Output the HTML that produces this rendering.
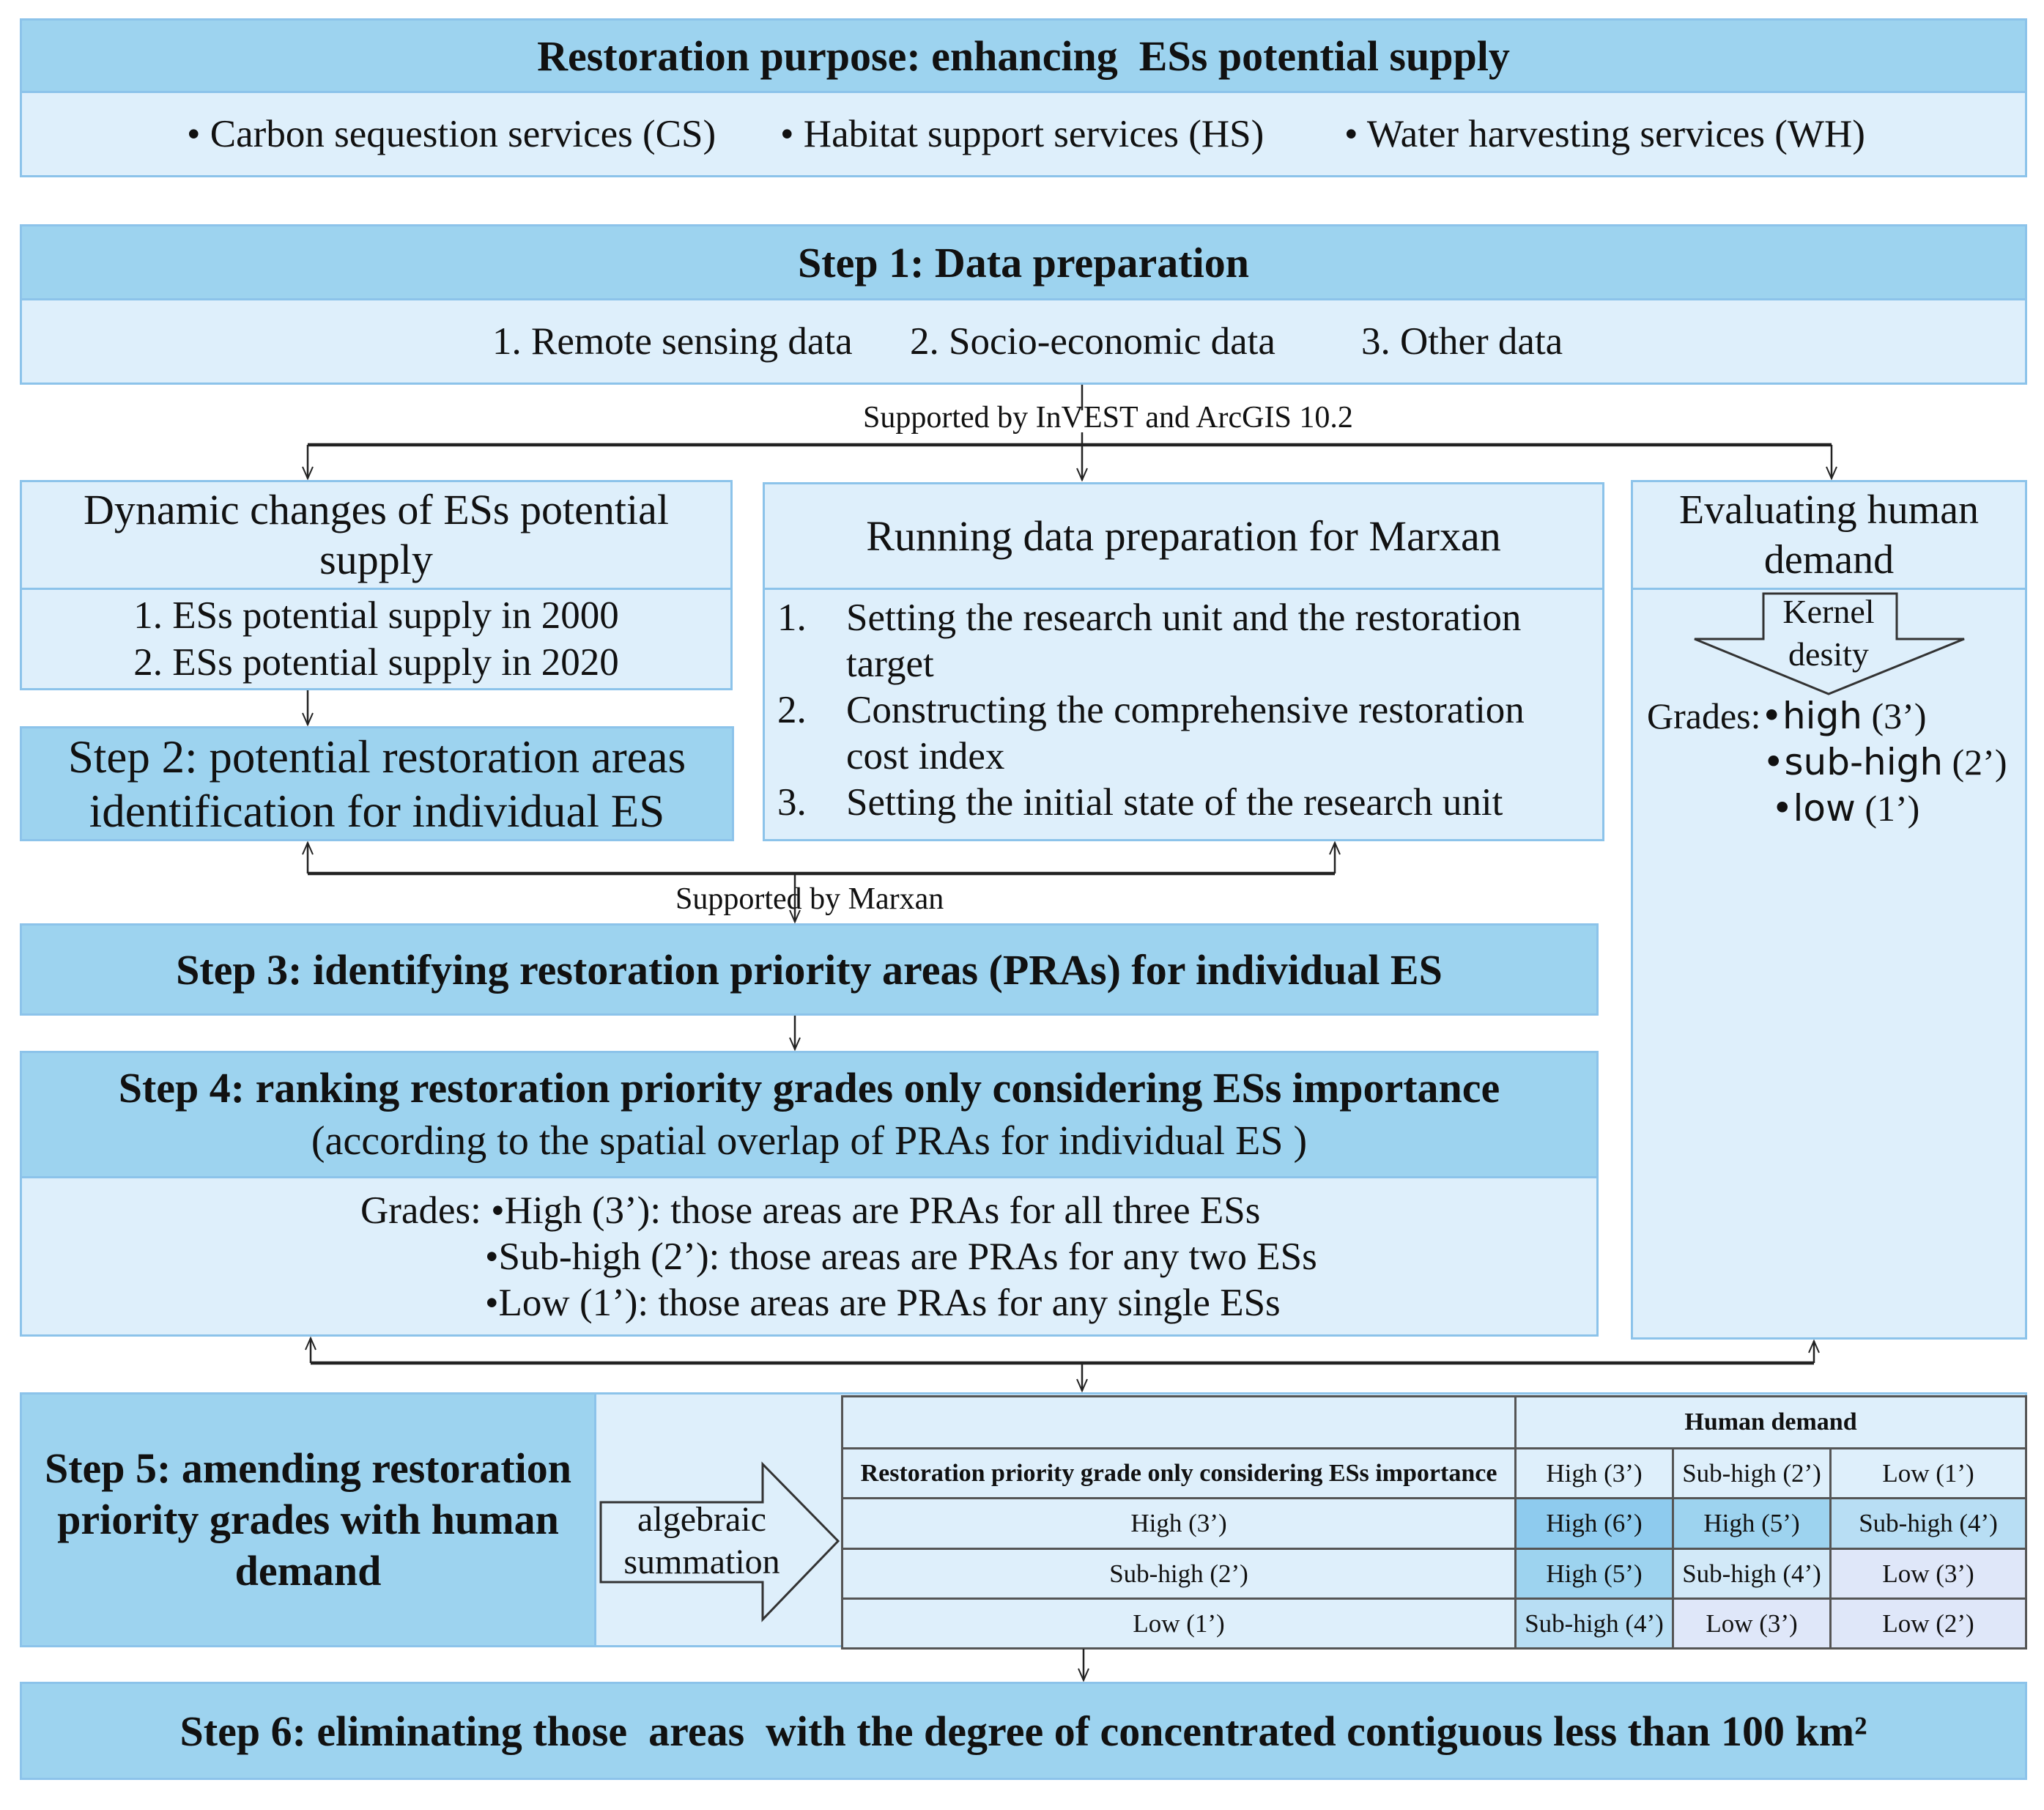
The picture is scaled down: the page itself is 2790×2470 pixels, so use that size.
<!DOCTYPE html>
<html><head><meta charset="utf-8"><style>
body{margin:0;width:2790px;height:2470px;background:#fff;position:relative;overflow:hidden;font-family:"Liberation Serif",serif;color:#111}
.b{position:absolute;box-sizing:border-box;border:3px solid #8cc3ea;display:flex;flex-direction:column;align-items:center;justify-content:center;text-align:center}
.h{background:#9dd3ef}.l{background:#deeffb}
.bold{font-weight:bold}
.t{position:absolute;white-space:nowrap}
table{position:absolute;left:1148px;top:1904px;width:1619px;height:344px;border-collapse:collapse;font-size:35px}
td{border:3px solid #555;text-align:center;padding:0}
</style></head><body>
<!-- top -->
<div class="b h bold" style="left:27px;top:25px;width:2740px;height:102px;font-size:58px">Restoration purpose: enhancing&nbsp; ESs potential supply</div>
<div class="b l" style="left:27px;top:124px;width:2740px;height:118px;font-size:53px;flex-direction:row;justify-content:flex-start">
<span style="position:absolute;left:225px">• Carbon sequestion services (CS)</span>
<span style="position:absolute;left:1035px">• Habitat support services (HS)</span>
<span style="position:absolute;left:1805px">• Water harvesting services (WH)</span></div>
<!-- step1 -->
<div class="b h bold" style="left:27px;top:306px;width:2740px;height:104px;font-size:58px">Step 1: Data preparation</div>
<div class="b l" style="left:27px;top:407px;width:2740px;height:118px;font-size:53px">
<span style="position:absolute;left:642px">1. Remote sensing data</span>
<span style="position:absolute;left:1212px">2. Socio-economic data</span>
<span style="position:absolute;left:1828px">3. Other data</span></div>
<div class="t" style="left:1178px;top:546px;font-size:42px">Supported by InVEST and ArcGIS 10.2</div>
<!-- left -->
<div class="b l" style="left:27px;top:655px;width:973px;height:150px;font-size:58px;line-height:68px">Dynamic changes of ESs potential<br>supply</div>
<div class="b l" style="left:27px;top:802px;width:973px;height:140px;font-size:53px;line-height:64px">1. ESs potential supply in 2000<br>2. ESs potential supply in 2020</div>
<div class="b h" style="left:27px;top:991px;width:975px;height:157px;font-size:63px;line-height:74px">Step 2: potential restoration areas<br>identification for individual ES</div>
<!-- middle -->
<div class="b l" style="left:1041px;top:658px;width:1149px;height:147px;font-size:58px">Running data preparation for Marxan</div>
<div class="b l" style="left:1041px;top:802px;width:1149px;height:346px;font-size:53px;text-align:left"></div>
<div class="t" style="left:1061px;top:812px;line-height:63px;font-size:53px">1.</div><div class="t" style="left:1155px;top:812px;line-height:63px;font-size:53px">Setting the research unit and the restoration<br>target</div>
<div class="t" style="left:1061px;top:938px;line-height:63px;font-size:53px">2.</div><div class="t" style="left:1155px;top:938px;line-height:63px;font-size:53px">Constructing the comprehensive restoration<br>cost index</div>
<div class="t" style="left:1061px;top:1064px;line-height:63px;font-size:53px">3.</div><div class="t" style="left:1155px;top:1064px;line-height:63px;font-size:53px">Setting the initial state of the research unit</div>
<!-- right -->
<div class="b l" style="left:2226px;top:655px;width:541px;height:150px;font-size:56px;line-height:68px">Evaluating human<br>demand</div>
<div class="b l" style="left:2226px;top:802px;width:541px;height:1026px"></div>
<!-- step3 -->
<div class="t" style="left:922px;top:1203px;font-size:42px">Supported by Marxan</div>
<div class="b h bold" style="left:27px;top:1260px;width:2155px;height:126px;font-size:58px">Step 3: identifying restoration priority areas (PRAs) for individual ES</div>
<!-- step4 -->
<div class="b h" style="left:27px;top:1434px;width:2155px;height:174px;font-size:56px;line-height:72px"><b style="font-size:58px">Step 4: ranking restoration priority grades only considering ESs importance</b>(according to the spatial overlap of PRAs for individual ES )</div>
<div class="b l" style="left:27px;top:1605px;width:2155px;height:219px"></div>
<div class="t" style="left:492px;top:1621px;font-size:53px;line-height:63px">Grades: •High (3’): those areas are PRAs for all three ESs</div>
<div class="t" style="left:662px;top:1684px;font-size:53px;line-height:63px">•Sub-high (2’): those areas are PRAs for any two ESs</div>
<div class="t" style="left:662px;top:1747px;font-size:53px;line-height:63px">•Low (1’): those areas are PRAs for any single ESs</div>
<!-- step5 -->
<div class="b l" style="left:27px;top:1900px;width:2740px;height:348px"></div>
<div class="b h bold" style="left:27px;top:1900px;width:787px;height:348px;font-size:58px;line-height:70px">Step 5: amending restoration<br>priority grades with human<br>demand</div>
<table>
<tr style="height:71px;background:#deeffb"><td style="width:916px"></td><td colspan="3" style="font-weight:bold;font-size:34px">Human demand</td></tr>
<tr style="height:68px;background:#deeffb"><td style="font-weight:bold;font-size:34px">Restoration priority grade only considering ESs importance</td><td style="width:212px">High (3’)</td><td style="width:212px">Sub-high (2’)</td><td>Low (1’)</td></tr>
<tr style="height:69px"><td style="background:#deeffb">High (3’)</td><td style="background:#8ecbee">High (6’)</td><td style="background:#9dd3ef">High (5’)</td><td style="background:#b8def4">Sub-high (4’)</td></tr>
<tr style="height:68px"><td style="background:#deeffb">Sub-high (2’)</td><td style="background:#9dd3ef">High (5’)</td><td style="background:#d2e9f8">Sub-high (4’)</td><td style="background:#dfe7f9">Low (3’)</td></tr>
<tr style="height:68px"><td style="background:#deeffb">Low (1’)</td><td style="background:#b8def4">Sub-high (4’)</td><td style="background:#dfe7f9">Low (3’)</td><td style="background:#dfe7f9">Low (2’)</td></tr>
</table>
<!-- step6 -->
<div class="b h bold" style="left:27px;top:2295px;width:2740px;height:134px;font-size:58px">Step 6: eliminating those&nbsp; areas&nbsp; with the degree of concentrated contiguous less than 100 km²</div>
<!-- shapes -->
<svg style="position:absolute;left:0;top:0" width="2790" height="2470">
<polygon points="2407,810 2589,810 2589,872 2681,872 2496,947 2313,872 2407,872" fill="#deeffb" stroke="#333" stroke-width="3"/>
<polygon points="820,2050 1041,2050 1041,1998 1144,2103 1041,2210 1041,2159 820,2159" fill="#deeffb" stroke="#333" stroke-width="3"/>
</svg>
<div class="t" style="left:2496px;top:806px;transform:translateX(-50%);font-size:46px;text-align:center;line-height:58px">Kernel<br>desity</div>
<div class="t" style="left:2248px;top:948px;font-size:50px">Grades:<span style="font-family:'DejaVu Sans',sans-serif;font-size:50px">•high</span> (3’)</div>
<div class="t" style="left:2406px;top:1011px;font-size:50px"><span style="font-family:'DejaVu Sans',sans-serif;font-size:50px">•sub-high</span> (2’)</div>
<div class="t" style="left:2418px;top:1074px;font-size:50px"><span style="font-family:'DejaVu Sans',sans-serif;font-size:50px">•low</span> (1’)</div>
<div class="t" style="left:958px;top:2045px;transform:translateX(-50%);font-size:48px;text-align:center;line-height:58px">algebraic<br>summation</div>
<!-- connectors -->
<svg style="position:absolute;left:0;top:0" width="2790" height="2470" fill="none" stroke="#222">
<defs><marker id="a" markerWidth="20" markerHeight="20" refX="18" refY="10" orient="auto" markerUnits="userSpaceOnUse"><path d="M2,3 L18,10 L2,17" stroke="#222" stroke-width="2" fill="none"/></marker></defs>
<g stroke-width="2.5">
<line x1="1477" y1="525" x2="1477" y2="560"/>
<line x1="1477" y1="590" x2="1477" y2="655" marker-end="url(#a)"/>
<line x1="420" y1="607" x2="420" y2="653" marker-end="url(#a)"/>
<line x1="2500" y1="607" x2="2500" y2="653" marker-end="url(#a)"/>
<line x1="420" y1="942" x2="420" y2="989" marker-end="url(#a)"/>
<line x1="420" y1="1192" x2="420" y2="1150" marker-end="url(#a)"/>
<line x1="1822" y1="1192" x2="1822" y2="1150" marker-end="url(#a)"/>
<line x1="1085" y1="1192" x2="1085" y2="1258" marker-end="url(#a)"/>
<line x1="1085" y1="1386" x2="1085" y2="1432" marker-end="url(#a)"/>
<line x1="424" y1="1860" x2="424" y2="1826" marker-end="url(#a)"/>
<line x1="2476" y1="1860" x2="2476" y2="1830" marker-end="url(#a)"/>
<line x1="1477" y1="1860" x2="1477" y2="1898" marker-end="url(#a)"/>
<line x1="1479" y1="2250" x2="1479" y2="2293" marker-end="url(#a)"/>
</g>
<g stroke-width="4.5">
<line x1="420" y1="607" x2="2500" y2="607"/>
<line x1="420" y1="1192" x2="1822" y2="1192"/>
<line x1="424" y1="1860" x2="2476" y2="1860"/>
</g>
</svg>
</body></html>
